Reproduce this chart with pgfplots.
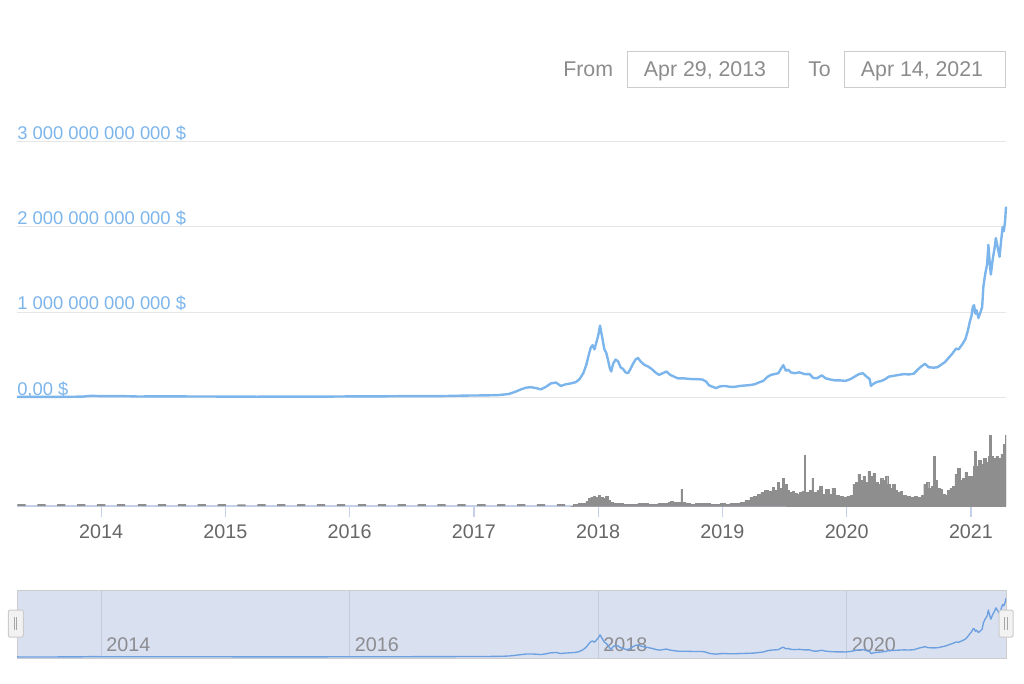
\documentclass[border=0pt]{standalone}
\usepackage{pgfplots}
\usepackage{pgfplotstable}
\pgfplotsset{compat=1.18}
\usepackage{fontspec}
\setmainfont{Liberation Sans}
\definecolor{lineblue}{HTML}{7CB5EC}
\definecolor{gridcol}{HTML}{E6E6E6}
\definecolor{axiscol}{HTML}{C4D0EA}
\definecolor{labcol}{HTML}{666666}
\definecolor{volcol}{HTML}{8E8E8E}
\definecolor{navbg}{RGB}{217,224,240}
\definecolor{navborder}{HTML}{CCCCCC}
\definecolor{navgrid}{RGB}{195,203,219}
\definecolor{navline}{RGB}{108,160,225}
\definecolor{navlab}{RGB}{140,140,145}
\definecolor{fromcol}{HTML}{8C8C8C}

\pgfplotstableread{
year val
2013.323 0.0015
2013.50 0.0011
2013.70 0.0016
2013.85 0.0045
2013.92 0.014
2014.00 0.010
2014.15 0.011
2014.30 0.006
2014.50 0.008
2014.75 0.006
2015.00 0.005
2015.25 0.0035
2015.50 0.0045
2015.75 0.0037
2016.00 0.0070
2016.25 0.0075
2016.50 0.0110
2016.75 0.0110
2016.95 0.0170
2017.10 0.0190
2017.20 0.0230
2017.28 0.0350
2017.33 0.060
2017.38 0.090
2017.42 0.110
2017.46 0.115
2017.50 0.105
2017.54 0.090
2017.58 0.120
2017.62 0.160
2017.66 0.170
2017.70 0.130
2017.74 0.150
2017.78 0.160
2017.82 0.175
2017.85 0.210
2017.88 0.280
2017.905 0.380
2017.925 0.500
2017.94 0.580
2017.955 0.610
2017.97 0.560
2017.985 0.640
2018.00 0.720
2018.015 0.840
2018.025 0.760
2018.035 0.680
2018.05 0.560
2018.065 0.520
2018.08 0.430
2018.095 0.330
2018.105 0.300
2018.12 0.390
2018.14 0.440
2018.16 0.420
2018.18 0.350
2018.20 0.330
2018.22 0.290
2018.24 0.280
2018.26 0.330
2018.28 0.390
2018.30 0.440
2018.32 0.460
2018.34 0.420
2018.37 0.380
2018.40 0.360
2018.43 0.330
2018.46 0.290
2018.49 0.260
2018.52 0.280
2018.55 0.300
2018.58 0.260
2018.61 0.240
2018.64 0.220
2018.68 0.220
2018.72 0.215
2018.76 0.210
2018.80 0.210
2018.84 0.205
2018.87 0.180
2018.89 0.140
2018.92 0.120
2018.95 0.105
2018.98 0.125
2019.02 0.130
2019.06 0.120
2019.10 0.120
2019.14 0.130
2019.18 0.135
2019.22 0.140
2019.26 0.150
2019.30 0.175
2019.33 0.190
2019.36 0.235
2019.39 0.260
2019.42 0.270
2019.45 0.280
2019.47 0.330
2019.49 0.375
2019.51 0.310
2019.53 0.320
2019.55 0.290
2019.58 0.280
2019.62 0.290
2019.66 0.270
2019.70 0.270
2019.73 0.225
2019.76 0.220
2019.80 0.255
2019.83 0.220
2019.87 0.205
2019.91 0.195
2019.95 0.195
2019.99 0.190
2020.03 0.210
2020.07 0.245
2020.10 0.270
2020.13 0.280
2020.16 0.240
2020.185 0.210
2020.195 0.130
2020.21 0.150
2020.24 0.175
2020.28 0.190
2020.31 0.210
2020.34 0.240
2020.38 0.250
2020.42 0.260
2020.46 0.270
2020.50 0.265
2020.54 0.275
2020.57 0.320
2020.60 0.360
2020.63 0.390
2020.66 0.350
2020.70 0.345
2020.73 0.350
2020.76 0.380
2020.79 0.410
2020.82 0.460
2020.85 0.510
2020.88 0.570
2020.90 0.560
2020.93 0.620
2020.955 0.680
2020.975 0.780
2020.99 0.880
2021.005 0.960
2021.015 1.060
2021.025 1.080
2021.035 0.980
2021.045 1.020
2021.06 0.930
2021.075 0.990
2021.09 1.060
2021.10 1.300
2021.115 1.450
2021.13 1.560
2021.14 1.790
2021.15 1.600
2021.16 1.440
2021.175 1.620
2021.19 1.750
2021.20 1.870
2021.215 1.760
2021.23 1.650
2021.24 1.800
2021.255 2.000
2021.265 1.950
2021.275 2.080
2021.282 2.240
}\mcap

\pgfplotstableread{
year vol
2017.78 0
2017.80 8
2017.84 12
2017.88 15
2017.90 25
2017.92 40
2017.94 45
2017.96 50
2017.98 42
2018.00 55
2018.02 45
2018.04 38
2018.06 48
2018.08 30
2018.10 20
2018.12 15
2018.16 12
2018.20 10
2018.24 8
2018.28 10
2018.32 15
2018.36 12
2018.40 8
2018.44 10
2018.48 15
2018.52 12
2018.56 20
2018.58 25
2018.60 18
2018.665 85
2018.675 20
2018.70 15
2018.74 10
2018.78 12
2018.82 15
2018.86 12
2018.90 8
2018.94 10
2018.98 12
2019.02 10
2019.06 15
2019.10 12
2019.14 18
2019.18 30
2019.22 45
2019.25 50
2019.28 60
2019.31 70
2019.34 80
2019.37 75
2019.40 95
2019.42 80
2019.44 120
2019.46 90
2019.48 140
2019.50 110
2019.52 80
2019.54 70
2019.56 75
2019.58 65
2019.60 60
2019.62 70
2019.64 75
2019.66 255
2019.67 70
2019.70 80
2019.72 140
2019.73 70
2019.76 80
2019.78 100
2019.80 60
2019.83 85
2019.86 60
2019.88 90
2019.91 55
2019.94 50
2019.97 45
2020.00 50
2020.03 55
2020.05 110
2020.07 120
2020.09 160
2020.11 130
2020.13 150
2020.15 120
2020.17 175
2020.19 150
2020.21 165
2020.23 120
2020.25 110
2020.27 140
2020.29 130
2020.31 150
2020.33 110
2020.35 90
2020.37 110
2020.39 80
2020.41 70
2020.43 75
2020.45 55
2020.48 50
2020.51 45
2020.54 50
2020.57 45
2020.60 55
2020.62 110
2020.64 120
2020.66 90
2020.68 100
2020.70 250
2020.71 130
2020.73 90
2020.75 85
2020.77 60
2020.79 55
2020.81 80
2020.83 90
2020.85 100
2020.87 160
2020.89 190
2020.91 130
2020.93 140
2020.95 170
2020.97 150
2021.00 150
2021.02 200
2021.03 275
2021.04 200
2021.06 230
2021.08 210
2021.10 240
2021.12 220
2021.14 250
2021.15 355
2021.16 250
2021.18 240
2021.20 250
2021.22 240
2021.24 260
2021.26 310
2021.27 250
2021.278 355
2021.282 355
}\volume

\begin{document}
\begin{tikzpicture}
\useasboundingbox (0,0) rectangle (768pt,512.25pt);

% range selector
\node[anchor=base west, inner sep=0pt, text=fromcol, font=\fontsize{16}{19}\selectfont] at (422.25pt,454.7pt) {From};
\draw[navborder, line width=0.75pt] (470.25pt,446.25pt) rectangle (591pt,473.25pt);
\node[anchor=base, inner sep=0pt, text=fromcol, font=\fontsize{16}{19}\selectfont] at (528.75pt,454.7pt) {Apr 29, 2013};
\node[anchor=base west, inner sep=0pt, text=fromcol, font=\fontsize{16}{19}\selectfont] at (606pt,454.7pt) {To};
\draw[navborder, line width=0.75pt] (633pt,446.25pt) rectangle (753.75pt,473.25pt);
\node[anchor=base, inner sep=0pt, text=fromcol, font=\fontsize{16}{19}\selectfont] at (691.5pt,454.7pt) {Apr 14, 2021};

% main price axis
\begin{axis}[
  at={(12.75pt,214.5pt)}, anchor=south west, scale only axis,
  width=741.75pt, height=191.25pt,
  xmin=2013.323, xmax=2021.282, ymin=0, ymax=3,
  clip=false,
  axis line style={draw=none}, tick style={draw=none},
  xtick=\empty,
  ytick={0,1,2,3},
  yticklabels={{0{,}00 \$},{1 000 000 000 000 \$},{2 000 000 000 000 \$},{3 000 000 000 000 \$}},
  yticklabel style={anchor=base west, inner sep=0pt, yshift=1.5pt, text=lineblue, font=\fontsize{13.8}{16}\selectfont},
  ymajorgrids, grid style={gridcol, line width=0.75pt},
]
\addplot[lineblue, line width=1.8pt, line join=round] table[x=year, y=val] {\mcap};
\end{axis}

% volume axis
\begin{axis}[
  at={(12.75pt,132.75pt)}, anchor=south west, scale only axis,
  width=741.75pt, height=64.5pt,
  xmin=2013.323, xmax=2021.282, ymin=0, ymax=430,
  axis x line*=bottom, axis y line=none,
  x axis line style={axiscol, line width=0.9pt, -},
  xtick={2014,2015,2016,2017,2018,2019,2020,2021},
  xticklabels={2014,2015,2016,2017,2018,2019,2020,2021},
  tick align=outside, major tick length=8.25pt,
  tick style={draw=axiscol, line width=0.9pt},
  xticklabel style={anchor=base, inner sep=0pt, yshift=-15.75pt, text=labcol, font=\fontsize{14.8}{17}\selectfont},
  ytick=\empty,
]
\addplot[ybar, bar width=6.2pt, bar shift=0pt, fill=volcol, draw=none] coordinates {
(2013.36,10) (2013.52,9) (2013.68,10) (2013.84,10) (2014.00,10) (2014.16,9) (2014.33,10)
(2014.49,10) (2014.65,9) (2014.81,10) (2014.97,10) (2015.13,8) (2015.29,9) (2015.45,10)
(2015.61,9) (2015.77,10) (2015.93,10) (2016.10,9) (2016.26,10) (2016.42,10) (2016.58,10)
(2016.74,9) (2016.90,10) (2017.06,9) (2017.22,10) (2017.38,10) (2017.54,9) (2017.70,10)};
\addplot[const plot, fill=volcol, draw=volcol, line width=0.3pt] table[x=year, y=vol] {\volume} \closedcycle;
\end{axis}

% navigator
\begin{axis}[
  at={(12.75pt,18.75pt)}, anchor=south west, scale only axis,
  width=741.75pt, height=51pt,
  xmin=2013.323, xmax=2021.282, ymin=-0.04, ymax=2.55,
  axis background/.style={fill=navbg},
  axis line style={navborder, line width=0.75pt},
  ytick=\empty,
  xtick={2014,2016,2018,2020},
  xticklabels={2014,2016,2018,2020},
  major tick length=0pt,
  xmajorgrids, grid style={navgrid, line width=0.75pt},
  xticklabel style={anchor=base west, inner sep=0pt, xshift=3.75pt, yshift=5.25pt, text=navlab, font=\fontsize{14.8}{17}\selectfont},
]
\addplot[navline, line width=1pt, line join=round] table[x=year, y=val] {\mcap};
\end{axis}

% navigator handles
\draw[navborder, fill=white!95!black, rounded corners=1pt, line width=0.75pt] (6.2pt,34.5pt) rectangle (17.5pt,54.75pt);
\draw[gray!70, line width=0.6pt] (10.7pt,39.75pt) -- (10.7pt,49.5pt) (12.5pt,39.75pt) -- (12.5pt,49.5pt);
\draw[navborder, fill=white!95!black, rounded corners=1pt, line width=0.75pt] (749.25pt,34.5pt) rectangle (759.75pt,54.75pt);
\draw[gray!70, line width=0.6pt] (753.6pt,39.75pt) -- (753.6pt,49.5pt) (755.4pt,39.75pt) -- (755.4pt,49.5pt);
\end{tikzpicture}
\end{document}
